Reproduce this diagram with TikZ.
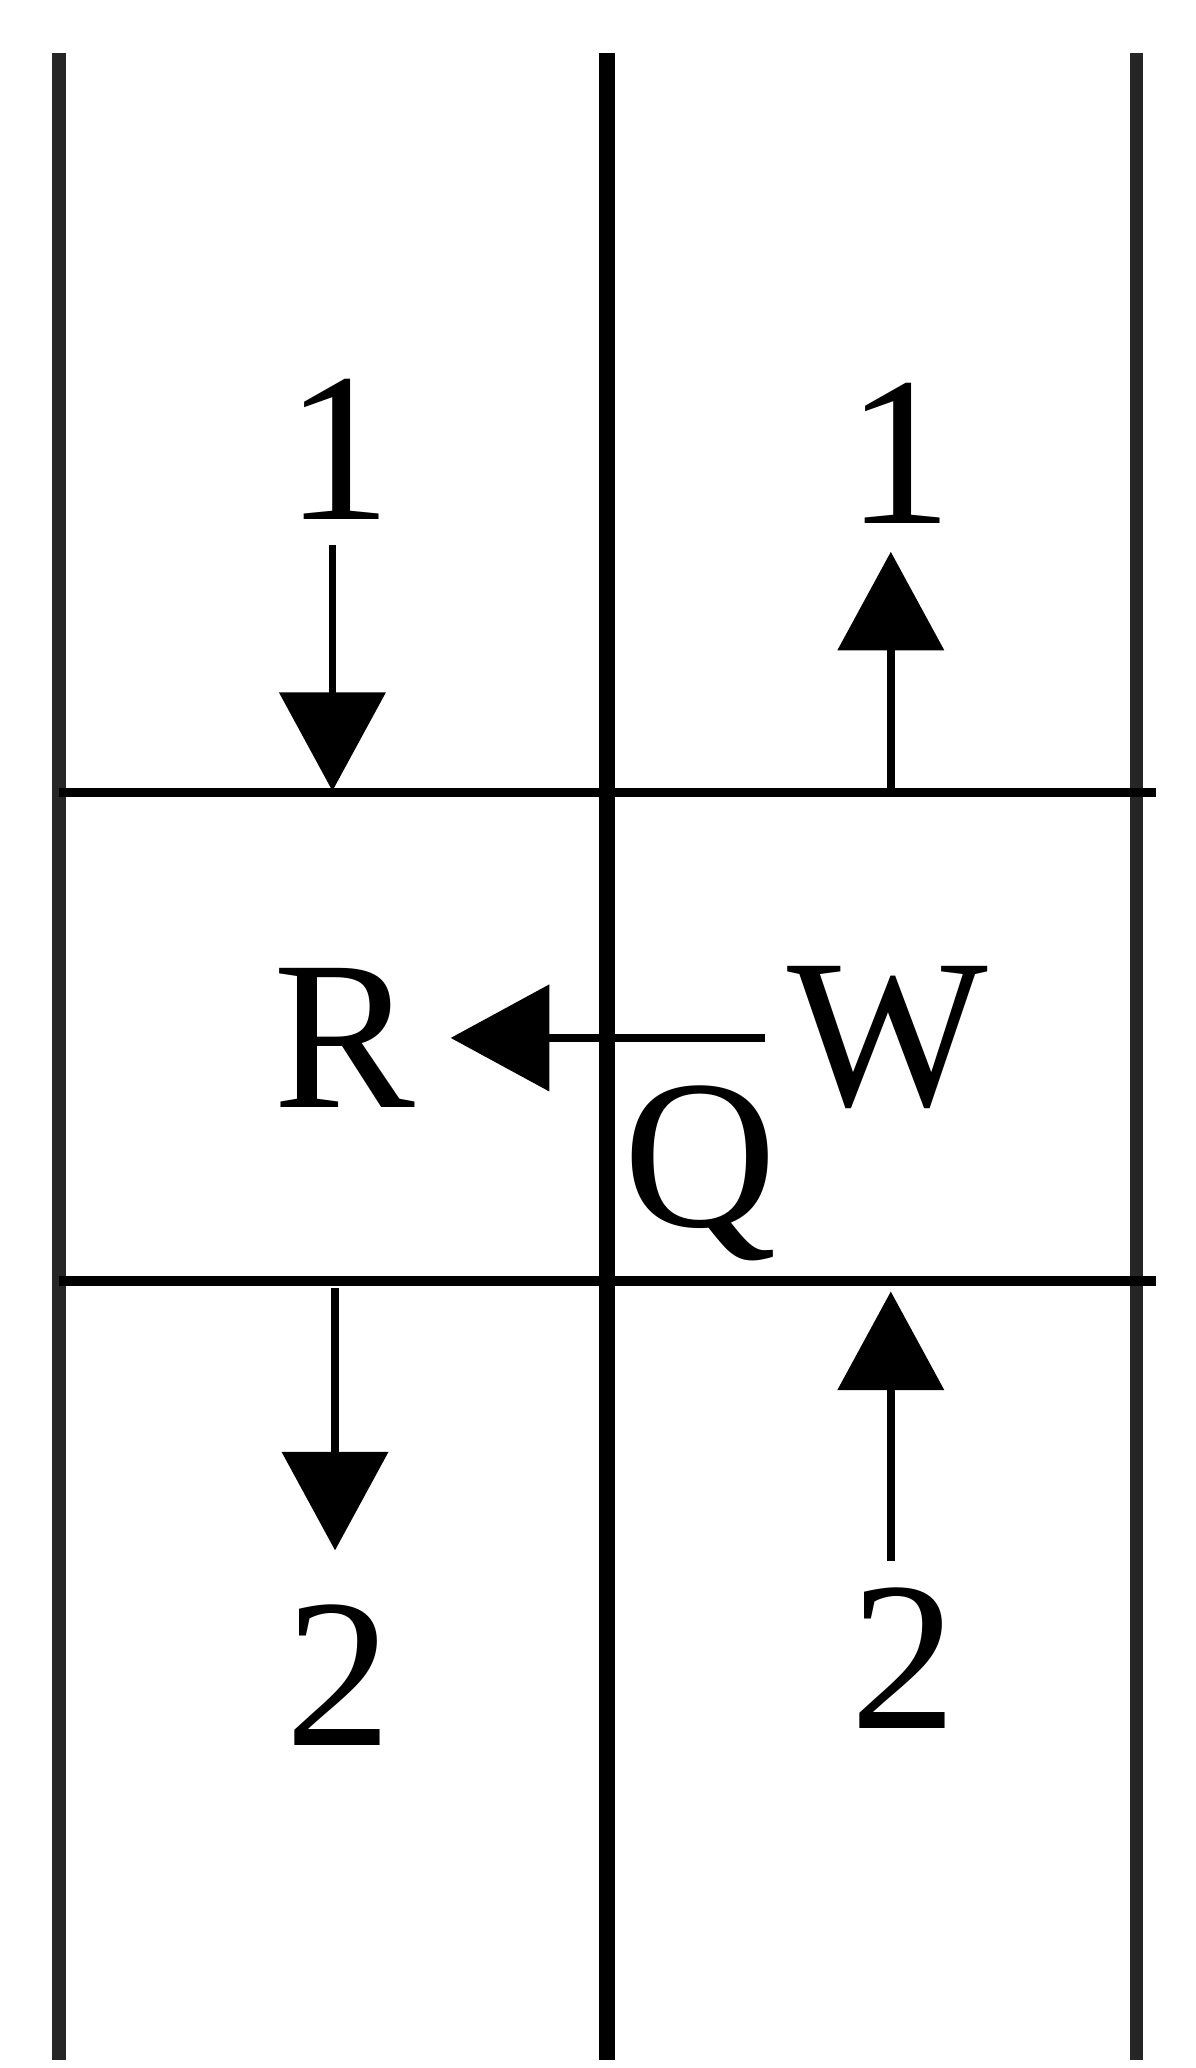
\documentclass[tikz,border=0pt]{standalone}
\usepackage{fontspec}
\setmainfont{Liberation Serif}
\usetikzlibrary{arrows.meta}
\begin{document}
\begin{tikzpicture}[x=0.01cm,y=-0.01cm,
  wall/.style={line width=3pt,black!85},
  floor/.style={line width=2pt},
  flow/.style={line width=1.6pt,-{Triangle[length=0.75cm,width=0.8cm]}},
  lab/.style={font=\fontsize{46}{54}\selectfont,inner sep=0pt}]
\useasboundingbox (0,0) rectangle (910,1574);
\coordinate (l1) at (45,40); \coordinate (l2) at (45,1568);
\coordinate (m1) at (462,40); \coordinate (m2) at (462,1568);
\coordinate (r1) at (865,40); \coordinate (r2) at (865,1568);
\draw[wall] (l1) -- (l2);
\draw[wall,line width=3.4pt,black] (m1) -- (m2);
\draw[wall] (r1) -- (r2);
\coordinate (h1a) at (45,603); \coordinate (h1b) at (880,603);
\coordinate (h2a) at (45,975); \coordinate (h2b) at (880,975);
\draw[floor] (h1a) -- (h1b);
\draw[floor] (h2a) -- (h2b);
\node[lab] (one1) at (258,342) {1};
\node[lab] (one2) at (685,345) {1};
\node[lab] (R) at (262,790) {R};
\node[lab] (W) at (676,790) {W};
\node[lab] (Q) at (533,893) {Q};
\node[lab] (two1) at (258,1275) {2};
\node[lab] (two2) at (688,1262) {2};
\coordinate (a1s) at (253,415); \coordinate (a1e) at (253,602);
\coordinate (a2s) at (678,603); \coordinate (a2e) at (678,420);
\coordinate (a3s) at (582,790); \coordinate (a3e) at (343,790);
\coordinate (a4s) at (255,980); \coordinate (a4e) at (255,1180);
\coordinate (a5s) at (678,1188); \coordinate (a5e) at (678,983);
\draw[flow] (a1s) -- (a1e);
\draw[flow] (a2s) -- (a2e);
\draw[flow] (a3s) -- (a3e);
\draw[flow] (a4s) -- (a4e);
\draw[flow] (a5s) -- (a5e);
\end{tikzpicture}
\end{document}
